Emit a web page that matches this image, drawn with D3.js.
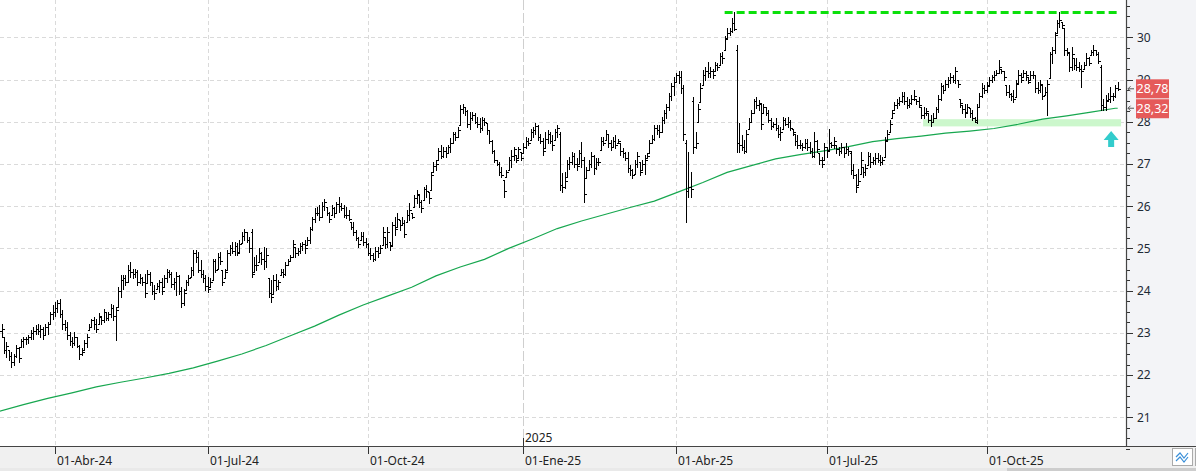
<!DOCTYPE html>
<html>
<head>
<meta charset="utf-8">
<script src="https://cdn.jsdelivr.net/npm/d3@7"></script>
<style>
  html, body { margin: 0; padding: 0; background: #fff; }
  svg { display: block; }
  text { font-family: "Noto Sans", "DejaVu Sans", sans-serif; }
</style>
</head>
<body>
<svg id="chart" width="1196" height="471"></svg>
<script>
// daily OHLC, one entry per trading day (late Feb 2024 .. mid Dec 2025)
const opens = [
  23.70,23.05,22.90,22.60,22.59,22.45,22.30,22.45,22.65,22.67,
  22.80,22.85,22.85,22.90,23.00,23.05,23.10,23.05,23.10,22.95,
  23.15,23.22,23.45,23.50,23.60,23.70,23.45,23.20,23.15,22.95,
  22.80,22.75,22.90,22.70,22.50,22.59,22.75,23.06,23.15,23.30,
  23.20,23.22,23.38,23.30,23.50,23.35,23.45,23.60,23.40,23.61,
  24.00,24.25,24.30,24.21,24.50,24.45,24.40,24.45,24.20,24.30,
  24.20,24.17,24.40,24.20,24.00,24.05,24.10,24.20,24.09,24.30,
  24.45,24.40,24.15,24.20,24.35,24.00,23.70,24.01,24.20,24.33,
  24.50,24.90,24.80,24.50,24.40,24.30,24.10,24.09,24.25,24.70,
  24.52,24.80,24.48,24.29,24.48,24.90,25.00,24.95,25.05,24.92,
  25.12,25.30,25.39,25.20,25.40,24.44,24.60,24.68,24.90,24.75,
  24.70,24.29,23.95,23.93,24.25,24.10,24.36,24.45,24.40,24.60,
  24.70,24.80,25.04,24.90,24.95,25.05,25.10,25.08,25.20,25.45,
  25.70,25.85,25.85,25.75,26.00,25.99,25.85,25.79,25.95,25.85,
  26.05,26.00,25.95,25.80,25.80,25.63,25.50,25.40,25.25,25.20,
  25.30,25.15,25.10,24.90,24.85,24.75,24.95,24.90,25.08,25.28,
  25.10,25.16,25.08,25.55,25.51,25.67,25.55,25.60,25.63,25.80,
  25.83,25.99,26.20,26.26,26.10,26.15,26.40,26.34,26.38,26.82,
  26.95,27.09,27.30,27.20,27.30,27.25,27.40,27.50,27.70,27.65,
  27.92,28.30,28.35,28.25,27.95,28.10,28.15,28.00,27.95,27.85,
  28.05,27.96,27.80,27.55,27.30,27.09,27.00,26.80,26.62,26.70,
  26.86,27.10,27.20,27.21,27.13,27.29,27.25,27.40,27.55,27.57,
  27.75,27.80,27.90,27.65,27.55,27.37,27.60,27.70,27.55,27.57,
  27.75,27.70,26.50,26.45,26.70,27.00,27.05,27.20,27.00,27.01,
  27.25,27.10,26.66,26.85,27.00,27.20,26.90,27.05,27.33,27.55,
  27.57,27.70,27.50,27.41,27.55,27.49,27.49,27.30,27.25,27.15,
  26.90,26.85,26.77,27.00,27.05,26.85,27.00,27.13,27.25,27.50,
  27.60,27.85,27.80,27.76,28.05,28.20,28.35,28.60,28.85,28.95,
  29.10,29.05,28.80,27.50,26.35,26.45,28.50,27.40,28.00,28.47,
  28.87,29.10,29.20,29.15,29.20,29.19,29.35,29.34,29.55,29.70,
  29.98,30.10,30.15,30.35,29.70,27.50,27.45,27.40,27.30,27.84,
  28.00,28.20,28.50,28.40,28.43,28.20,28.35,28.20,28.05,27.90,
  27.95,27.85,27.70,27.84,28.05,27.95,28.00,27.84,27.72,27.55,
  27.45,27.45,27.40,27.50,27.40,27.30,27.20,27.55,27.25,27.10,
  27.09,27.40,27.33,27.50,27.45,27.45,27.35,27.30,27.40,27.25,
  27.35,27.25,26.85,26.75,26.50,26.77,26.93,26.80,26.97,27.20,
  27.05,27.10,27.15,27.10,27.05,27.17,27.57,27.76,28.08,28.28,
  28.40,28.45,28.50,28.60,28.50,28.40,28.45,28.55,28.55,28.50,
  28.36,28.15,28.20,28.20,28.05,28.00,28.10,28.30,28.55,28.85,
  28.75,28.90,29.00,29.05,29.00,28.99,28.55,28.40,28.30,28.24,
  28.32,28.20,28.10,28.00,28.36,28.60,28.80,28.75,28.87,29.00,
  29.05,29.11,29.15,29.26,29.19,28.87,28.70,28.65,28.60,28.59,
  28.91,29.10,29.07,29.15,29.07,28.99,29.10,29.10,28.80,28.75,
  28.87,28.63,28.70,29.03,29.60,29.70,30.10,30.35,30.37,30.21,
  29.70,29.62,29.30,29.50,29.35,29.30,29.25,29.26,29.35,29.50,
  29.58,29.65,29.70,29.60,29.30,28.40,28.35,28.51,28.55,28.60,28.60,28.80
];
const highs = [
  23.73,23.22,22.90,22.79,22.59,22.55,22.51,22.71,22.67,22.86,
  22.90,22.90,22.94,23.06,23.14,23.18,23.22,23.18,23.14,23.22,
  23.26,23.50,23.65,23.73,23.77,23.81,23.54,23.30,23.26,23.02,
  22.90,23.02,22.90,22.71,22.63,22.82,22.98,23.22,23.34,23.38,
  23.34,23.46,23.38,23.57,23.50,23.50,23.69,23.65,23.61,24.09,
  24.36,24.36,24.36,24.60,24.68,24.52,24.52,24.48,24.40,24.33,
  24.40,24.48,24.44,24.21,24.13,24.17,24.25,24.29,24.36,24.52,
  24.48,24.44,24.29,24.44,24.36,24.09,24.05,24.25,24.36,24.56,
  24.96,24.97,24.92,24.72,24.48,24.36,24.33,24.29,24.76,24.76,
  24.88,24.92,24.48,24.52,24.96,25.08,25.15,25.15,25.12,25.19,
  25.39,25.47,25.39,25.27,25.45,24.80,24.84,25.00,24.92,25.04,
  25.00,24.29,24.25,24.36,24.40,24.25,24.52,24.52,24.68,24.76,
  24.84,25.20,25.04,25.00,25.12,25.16,25.20,25.28,25.51,25.75,
  25.95,25.99,26.03,26.11,26.18,25.99,25.87,26.03,25.99,26.11,
  26.22,26.07,26.03,25.99,25.91,25.63,25.63,25.43,25.28,25.40,
  25.40,25.24,25.12,25.00,24.88,25.04,25.04,25.08,25.51,25.28,
  25.51,25.16,25.63,25.75,25.83,25.67,25.75,25.67,25.91,26.07,
  25.83,26.26,26.38,26.26,26.15,26.46,26.50,26.34,26.82,27.05,
  27.09,27.37,27.45,27.41,27.41,27.45,27.61,27.76,27.76,27.88,
  28.39,28.43,28.36,28.28,28.24,28.24,28.20,28.12,28.08,28.12,
  28.08,27.96,27.80,27.57,27.33,27.09,27.05,26.93,26.62,26.86,
  27.17,27.33,27.41,27.21,27.41,27.29,27.49,27.64,27.61,27.84,
  27.88,27.96,27.92,27.72,27.61,27.76,27.80,27.76,27.68,27.84,
  27.92,27.76,26.78,26.80,27.09,27.17,27.29,27.25,27.13,27.33,
  27.53,27.17,26.93,27.09,27.29,27.21,27.13,27.13,27.64,27.64,
  27.80,27.72,27.57,27.64,27.68,27.60,27.49,27.37,27.29,27.29,
  26.97,26.89,27.09,27.29,27.05,27.09,27.21,27.25,27.57,27.68,
  27.92,27.92,27.92,28.12,28.28,28.43,28.67,28.91,29.07,29.15,
  29.19,29.19,28.87,27.57,27.29,26.81,28.59,27.76,28.43,28.91,
  29.23,29.30,29.42,29.30,29.26,29.42,29.38,29.62,29.66,30.02,
  30.21,30.21,30.45,30.59,29.82,27.96,27.68,27.57,27.80,28.08,
  28.28,28.55,28.59,28.51,28.43,28.43,28.36,28.28,28.08,28.00,
  28.08,27.92,27.88,28.12,28.08,28.12,28.04,27.84,27.72,27.68,
  27.57,27.49,27.60,27.60,27.53,27.37,27.76,27.57,27.25,27.17,
  27.49,27.41,27.84,27.53,27.64,27.45,27.41,27.49,27.41,27.49,
  27.41,27.30,27.01,26.77,26.89,27.29,26.93,27.01,27.29,27.25,
  27.17,27.25,27.25,27.21,27.17,27.64,27.80,28.04,28.28,28.47,
  28.55,28.59,28.71,28.71,28.59,28.55,28.63,28.75,28.55,28.59,
  28.36,28.36,28.32,28.20,28.16,28.20,28.36,28.63,28.91,28.87,
  28.99,29.07,29.15,29.11,29.30,28.99,28.55,28.40,28.43,28.43,
  28.32,28.28,28.12,28.43,28.67,28.91,28.87,28.95,29.07,29.11,
  29.19,29.23,29.46,29.26,29.19,28.87,28.87,28.67,28.75,28.99,
  29.23,29.15,29.23,29.19,29.07,29.19,29.19,29.11,28.95,28.99,
  28.87,28.83,28.99,29.66,29.78,30.13,30.41,30.59,30.37,30.21,
  29.74,29.62,29.78,29.50,29.50,29.42,29.34,29.42,29.62,29.54,
  29.70,29.82,29.70,29.66,29.34,28.55,28.63,28.67,28.83,28.67,28.87,28.95
];
const lows = [
  22.90,22.90,22.52,22.43,22.35,22.19,22.23,22.43,22.31,22.67,
  22.67,22.73,22.75,22.86,22.86,22.98,22.98,22.90,22.86,22.94,
  22.98,23.22,23.34,23.39,23.50,23.38,23.10,23.06,22.86,22.71,
  22.67,22.71,22.67,22.39,22.47,22.59,22.67,23.06,23.14,23.10,
  23.02,23.22,23.22,23.26,23.30,23.30,23.38,23.30,22.82,23.61,
  23.85,24.05,24.13,24.21,24.33,24.29,24.33,24.13,24.17,24.13,
  23.85,24.17,24.13,23.93,23.81,24.05,23.97,23.93,24.09,24.21,
  24.33,24.09,24.05,23.89,23.93,23.61,23.65,24.01,24.13,24.33,
  24.36,24.68,24.44,24.33,24.21,24.01,23.97,24.09,24.25,24.44,
  24.52,24.64,24.13,24.29,24.48,24.84,24.88,24.84,24.84,24.92,
  25.12,25.19,25.15,24.92,24.33,24.44,24.48,24.68,24.64,24.52,
  24.56,23.85,23.73,23.93,24.01,24.05,24.36,24.33,24.36,24.60,
  24.69,24.80,24.80,24.84,24.88,24.96,24.88,25.08,25.12,25.43,
  25.63,25.79,25.67,25.75,25.91,25.79,25.63,25.79,25.75,25.83,
  25.87,25.91,25.75,25.71,25.67,25.47,25.32,25.20,25.04,25.20,
  25.08,25.04,24.84,24.76,24.69,24.72,24.80,24.88,25.08,25.00,
  25.04,24.96,25.08,25.32,25.51,25.43,25.55,25.28,25.63,25.67,
  25.71,25.99,26.07,25.99,25.87,26.15,26.22,26.07,26.38,26.82,
  26.86,27.09,27.13,27.17,27.17,27.25,27.29,27.49,27.57,27.64,
  27.92,28.20,28.16,27.88,27.84,28.04,27.96,27.88,27.76,27.80,
  27.92,27.72,27.49,27.25,27.05,26.97,26.74,26.70,26.22,26.70,
  26.86,26.93,27.09,27.05,27.13,27.09,27.25,27.37,27.45,27.57,
  27.64,27.72,27.57,27.49,27.21,27.37,27.49,27.49,27.33,27.57,
  27.64,26.38,26.34,26.44,26.70,26.88,27.01,26.93,26.85,27.01,
  26.93,26.10,26.66,26.85,26.93,26.77,26.89,26.97,27.33,27.45,
  27.57,27.41,27.33,27.41,27.37,27.49,27.21,27.17,27.09,26.81,
  26.74,26.66,26.77,26.93,26.74,26.85,26.77,27.13,27.25,27.49,
  27.57,27.72,27.64,27.76,27.96,28.08,28.28,28.51,28.63,28.95,
  28.91,28.67,27.57,25.63,26.22,26.22,27.25,27.37,28.00,28.47,
  28.87,28.99,29.07,29.07,29.03,29.19,29.23,29.34,29.38,29.70,
  29.98,30.06,30.13,30.17,27.29,27.29,27.33,27.25,27.29,27.84,
  28.00,28.20,28.32,28.28,27.84,28.20,28.16,28.00,27.84,27.88,
  27.80,27.64,27.57,27.84,27.92,27.88,27.80,27.68,27.45,27.37,
  27.37,27.33,27.37,27.33,27.25,27.17,27.17,27.29,27.01,26.93,
  27.09,27.17,27.33,27.41,27.37,27.25,27.21,27.25,27.17,27.25,
  27.21,26.77,26.66,26.34,26.50,26.77,26.70,26.74,26.97,26.93,
  27.01,27.01,27.05,26.97,27.01,27.17,27.57,27.76,28.08,28.28,
  28.32,28.39,28.47,28.43,28.32,28.36,28.43,28.51,28.43,28.36,
  28.08,28.08,28.16,28.00,27.90,28.00,28.08,28.24,28.51,28.67,
  28.75,28.83,28.91,28.95,28.91,28.83,28.36,28.20,28.12,28.24,
  28.12,28.04,28.00,27.96,28.36,28.59,28.67,28.71,28.87,28.95,
  28.99,29.11,29.15,29.15,28.99,28.63,28.59,28.51,28.47,28.59,
  28.91,28.95,29.07,28.99,28.91,28.99,29.03,28.71,28.67,28.71,
  28.55,28.63,28.16,29.03,29.38,29.62,30.10,30.25,30.21,29.58,
  29.58,29.19,29.23,29.26,29.23,29.19,28.83,29.26,29.34,29.34,
  29.58,29.58,29.58,29.38,28.28,28.28,28.28,28.51,28.47,28.51,28.59,28.75
];
const closes = [
  23.05,23.10,22.60,22.70,22.45,22.30,22.45,22.65,22.40,22.80,
  22.85,22.85,22.90,23.00,23.05,23.10,23.05,23.10,22.95,23.15,
  23.20,23.45,23.50,23.60,23.70,23.45,23.20,23.15,22.95,22.80,
  22.75,22.90,22.70,22.50,22.55,22.75,22.90,23.15,23.30,23.20,
  23.10,23.40,23.30,23.50,23.35,23.45,23.60,23.40,23.55,24.00,
  24.25,24.30,24.20,24.50,24.45,24.40,24.45,24.20,24.30,24.20,
  23.95,24.40,24.20,24.00,23.95,24.10,24.20,24.00,24.30,24.45,
  24.40,24.15,24.20,24.35,24.00,23.70,23.95,24.20,24.30,24.50,
  24.90,24.80,24.50,24.40,24.30,24.10,24.05,24.20,24.70,24.50,
  24.80,24.70,24.20,24.45,24.90,25.00,24.95,25.05,24.90,25.10,
  25.30,25.40,25.20,25.00,24.40,24.60,24.60,24.90,24.75,24.70,
  24.85,23.95,23.85,24.25,24.10,24.20,24.45,24.40,24.60,24.70,
  24.80,25.10,24.90,24.95,25.05,25.10,25.00,25.20,25.45,25.70,
  25.85,25.85,25.75,26.00,26.10,25.85,25.70,25.95,25.85,26.05,
  26.00,25.95,25.80,25.80,25.70,25.50,25.40,25.25,25.10,25.30,
  25.15,25.10,24.90,24.85,24.75,24.95,24.90,25.00,25.40,25.10,
  25.40,25.05,25.55,25.45,25.70,25.55,25.60,25.35,25.80,25.90,
  25.75,26.20,26.30,26.10,25.95,26.40,26.35,26.20,26.75,26.95,
  27.00,27.30,27.20,27.30,27.25,27.40,27.50,27.70,27.65,27.80,
  28.30,28.35,28.25,27.95,28.10,28.15,28.00,27.95,27.85,28.05,
  28.00,27.80,27.55,27.30,27.10,27.00,26.80,26.75,26.35,26.80,
  27.10,27.20,27.35,27.10,27.35,27.15,27.40,27.55,27.50,27.75,
  27.80,27.90,27.65,27.55,27.30,27.60,27.70,27.55,27.45,27.75,
  27.85,26.50,26.45,26.60,27.00,27.05,27.20,27.00,26.95,27.25,
  27.10,26.30,26.85,27.00,27.20,26.90,27.05,27.05,27.55,27.50,
  27.70,27.50,27.40,27.55,27.45,27.55,27.30,27.25,27.15,26.90,
  26.85,26.75,27.00,27.20,26.80,27.00,27.10,27.20,27.50,27.60,
  27.85,27.80,27.75,28.05,28.20,28.35,28.60,28.85,28.95,29.10,
  29.05,28.80,27.70,26.35,26.45,26.40,27.40,27.50,28.30,28.80,
  29.10,29.20,29.15,29.20,29.10,29.35,29.30,29.55,29.50,29.95,
  30.10,30.15,30.35,30.20,27.50,27.45,27.40,27.30,27.70,28.00,
  28.20,28.50,28.40,28.45,27.95,28.35,28.20,28.05,27.90,27.95,
  27.85,27.70,27.75,28.05,27.95,28.00,27.85,27.75,27.55,27.45,
  27.45,27.40,27.50,27.40,27.30,27.20,27.55,27.35,27.10,27.00,
  27.40,27.30,27.50,27.45,27.55,27.35,27.30,27.40,27.25,27.35,
  27.30,26.85,26.75,26.45,26.60,27.10,26.80,26.90,27.20,27.05,
  27.10,27.15,27.10,27.05,27.10,27.55,27.70,27.95,28.20,28.40,
  28.45,28.50,28.60,28.50,28.40,28.45,28.55,28.60,28.50,28.40,
  28.15,28.20,28.25,28.05,28.00,28.10,28.30,28.55,28.85,28.75,
  28.90,29.00,29.05,29.00,29.20,28.90,28.45,28.30,28.20,28.35,
  28.20,28.10,28.05,28.35,28.60,28.80,28.75,28.85,29.00,29.05,
  29.10,29.15,29.30,29.20,29.05,28.70,28.65,28.60,28.55,28.90,
  29.10,29.00,29.15,29.10,28.95,29.10,29.10,28.80,28.75,28.90,
  28.60,28.70,28.90,29.60,29.70,30.05,30.35,30.40,30.30,29.70,
  29.65,29.30,29.60,29.35,29.30,29.25,29.20,29.35,29.50,29.40,
  29.65,29.70,29.60,29.45,28.40,28.35,28.50,28.55,28.60,28.60,28.80,28.78
];

// 200-session moving average, read every 10 bars
const maIdx = [0,10,20,30,40,50,60,70,80,90,100,110,120,130,140,150,160,170,180,190,
  200,210,220,230,240,250,260,270,280,290,300,310,320,330,340,350,360,370,380,390,
  400,410,420,430,440,450,460,461];
const maVals = [21.14,21.30,21.45,21.58,21.72,21.83,21.93,22.04,22.17,22.33,
  22.50,22.70,22.93,23.16,23.42,23.66,23.87,24.08,24.35,24.56,
  24.74,25.00,25.23,25.47,25.65,25.81,25.97,26.12,26.34,26.56,
  26.80,26.96,27.12,27.22,27.31,27.41,27.53,27.60,27.66,27.73,
  27.78,27.84,27.94,28.06,28.14,28.23,28.32,28.32];

// axis ticks
const xTickIdx = [23, 86, 152, 216, 279, 341, 407];
const xTickLabels = ["01-Abr-24", "01-Jul-24", "01-Oct-24", "01-Ene-25", "01-Abr-25", "01-Jul-25", "01-Oct-25"];
const yearIdx = 216, yearLabel = "2025";
const yTicks = [21, 22, 23, 24, 25, 26, 27, 28, 29, 30];

// annotations
const resistance = { from: 299, to: 461, price: 30.59 };
const support = { from: 380.8, to: 462.4, lo: 27.89, hi: 28.06 };
const arrowAt = { idx: 458.3, price: 27.78 };
const lastClose = 28.78, lastMA = 28.32;

const width = 1196, height = 471;
const plotRight = 1126, plotBottom = 446;

const svg = d3.select("#chart");
const x = d3.scaleLinear().domain([0, 461]).range([-0.8, 1117.7]);
const y = d3.scaleLinear().domain([21, 30]).range([417.3, 37.3]);
const fmt = d3.format(".2f");

// panels
svg.append("rect").attr("x", 0).attr("y", 0).attr("width", width).attr("height", height).attr("fill", "#fff");
svg.append("rect").attr("x", plotRight).attr("y", 0).attr("width", width - plotRight).attr("height", plotBottom)
  .attr("fill", "#f3f4f7");
svg.append("rect").attr("x", 0).attr("y", plotBottom).attr("width", width).attr("height", 22).attr("fill", "#f0f0f0");
svg.append("rect").attr("x", 0).attr("y", 468).attr("width", width).attr("height", 3).attr("fill", "#e9e9e9");
svg.append("rect").attr("x", 1007).attr("y", 468).attr("width", width - 1007).attr("height", 3).attr("fill", "#cdcdcd");

// grid
const grid = svg.append("g").attr("shape-rendering", "crispEdges");
grid.selectAll("line.h").data(yTicks).enter().append("line")
  .attr("x1", 0).attr("x2", plotRight)
  .attr("y1", d => Math.round(y(d)) + 0.5).attr("y2", d => Math.round(y(d)) + 0.5)
  .attr("stroke", "#dadada").attr("stroke-dasharray", "4,3");
grid.selectAll("line.v").data(xTickIdx).enter().append("line")
  .attr("x1", d => Math.round(x(d)) + 0.5).attr("x2", d => Math.round(x(d)) + 0.5)
  .attr("y1", 0).attr("y2", plotBottom)
  .attr("stroke", d => d === yearIdx ? "#cfcfcf" : "#dadada")
  .attr("stroke-dasharray", d => d === yearIdx ? "10,3" : "4,3");

// support band
svg.append("rect")
  .attr("x", x(support.from)).attr("width", x(support.to) - x(support.from))
  .attr("y", y(support.hi)).attr("height", y(support.lo) - y(support.hi))
  .attr("fill", "#ccf7cc");

// 200 MA
svg.append("path")
  .datum(maIdx.map((d, i) => [d, maVals[i]]))
  .attr("fill", "none").attr("stroke", "#17a74f").attr("stroke-width", 1.2)
  .attr("d", d3.line().x(d => x(d[0])).y(d => y(d[1])));

// OHLC bars
const idx = closes.map((d, i) => i);
svg.append("g").attr("shape-rendering", "crispEdges")
  .selectAll("path").data(idx).enter().append("path")
  .attr("fill", "none").attr("stroke", "#000").attr("stroke-width", 1)
  .attr("d", i => {
    const px = Math.round(x(i)) + 0.5;
    const yh = Math.round(y(highs[i])), yl = Math.round(y(lows[i])) + 1;
    const yo = Math.round(y(opens[i])) + 0.5, yc = Math.round(y(closes[i])) + 0.5;
    return `M${px},${yh}V${yl}M${px - 2},${yo}H${px}M${px},${yc}H${px + 2}`;
  });

// resistance line
svg.append("line")
  .attr("x1", x(resistance.from)).attr("x2", x(resistance.to))
  .attr("y1", y(resistance.price)).attr("y2", y(resistance.price))
  .attr("stroke", "#0be00b").attr("stroke-width", 3).attr("stroke-dasharray", "8,4");

// cyan arrow
const ax = x(arrowAt.idx), ay = y(arrowAt.price);
svg.append("path")
  .attr("d", `M${ax},${ay}L${ax + 7.5},${ay + 9}H${ax + 3}V${ay + 16}H${ax - 3}V${ay + 9}H${ax - 7.5}Z`)
  .attr("fill", "#33cccc");

// right axis
const yAxis = svg.append("g").attr("transform", `translate(${plotRight},0)`)
  .call(d3.axisRight(y).tickValues(yTicks).tickSize(7).tickPadding(4).tickFormat(d3.format("d")));
yAxis.select(".domain").remove();
yAxis.selectAll("line").attr("stroke", "#333").attr("shape-rendering", "crispEdges");
yAxis.selectAll("text").attr("font-size", 12).attr("fill", "#1e2a36")
  .attr("font-family", '"Noto Sans", "DejaVu Sans", sans-serif');
const minor = d3.range(20.25, 31, 0.25).filter(v => v % 1 !== 0);
const yMinor = svg.append("g").attr("transform", `translate(${plotRight},0)`)
  .call(d3.axisRight(y).tickValues(minor).tickSize(4).tickFormat(""));
yMinor.select(".domain").remove();
yMinor.selectAll("line").attr("stroke", "#333").attr("shape-rendering", "crispEdges");
svg.append("line").attr("x1", plotRight + 0.5).attr("x2", plotRight + 0.5).attr("y1", 0).attr("y2", plotBottom)
  .attr("stroke", "#444").attr("stroke-width", 1.2);

// bottom axis
const xAxis = svg.append("g").attr("transform", `translate(0,${plotBottom})`)
  .call(d3.axisBottom(x).tickValues(xTickIdx).tickSize(8).tickPadding(2)
    .tickFormat((d, i) => xTickLabels[i]));
xAxis.select(".domain").remove();
xAxis.selectAll(".tick").attr("transform", d => `translate(${Math.round(x(d)) + 0.5},0)`);
xAxis.selectAll("line").attr("stroke", "#333").attr("shape-rendering", "crispEdges");
xAxis.selectAll("text").attr("text-anchor", "start").attr("x", 1.5).attr("font-size", 12)
  .attr("fill", "#222").attr("font-family", '"Noto Sans", "DejaVu Sans", sans-serif');
svg.append("line").attr("x1", 0).attr("x2", width).attr("y1", plotBottom + 0.5).attr("y2", plotBottom + 0.5)
  .attr("stroke", "#444").attr("stroke-width", 1.2);

// year marker
const yx = Math.round(x(yearIdx)) + 0.5;
svg.append("line").attr("x1", yx).attr("x2", yx).attr("y1", 438).attr("y2", plotBottom)
  .attr("stroke", "#333").attr("shape-rendering", "crispEdges");
svg.append("text").attr("x", yx + 1.5).attr("y", 442).attr("font-size", 12).attr("fill", "#222")
  .text(yearLabel);

// price tags
[lastClose, lastMA].forEach((v, k) => {
  const ty = y(v);
  svg.append("path")
    .attr("d", `M${plotRight + 8},${ty}H${plotRight + 2}M${plotRight + 4.5},${ty - 2.5}L${plotRight + 2},${ty}L${plotRight + 4.5},${ty + 2.5}`)
    .attr("fill", "none").attr("stroke", "#555").attr("stroke-width", 1);
  const top = k === 0 ? ty - 9.5 : ty - 9;
  svg.append("rect").attr("x", 1136).attr("y", top).attr("width", 33).attr("height", 19)
    .attr("fill", "#e55a5a");
  svg.append("text").attr("x", 1152.5).attr("y", top + 14).attr("text-anchor", "middle")
    .attr("font-size", 12.5).attr("fill", "#fff").text(fmt(v).replace(".", ","));
});

// little corner buttons
svg.append("rect").attr("x", 1172.5).attr("y", 448.5).attr("width", 20).attr("height", 17)
  .attr("fill", "#fff").attr("stroke", "#aaa");
svg.append("path").attr("d", "M1176,457L1180,453L1184,458L1188,453M1176,461L1180,457L1184,462L1188,457")
  .attr("fill", "none").attr("stroke", "#3a8fd8").attr("stroke-width", 1.2);
svg.append("rect").attr("x", 1195.5).attr("y", 448.5).attr("width", 6).attr("height", 17)
  .attr("fill", "#fff").attr("stroke", "#aaa");
</script>
</body>
</html>
